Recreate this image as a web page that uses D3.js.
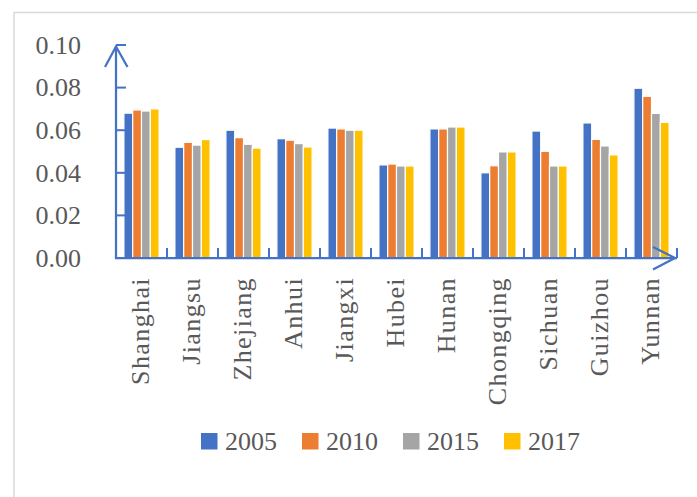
<!DOCTYPE html>
<html>
<head>
<meta charset="utf-8">
<script src="https://cdn.jsdelivr.net/npm/d3@7"></script>
<style>
body { margin: 0; background: #fff; }
text { font-family: "Liberation Serif", serif; fill: #595959; }
</style>
</head>
<body>
<svg id="chart"></svg>
<script>
var categories = ["Shanghai", "Jiangsu", "Zhejiang", "Anhui", "Jiangxi", "Hubei", "Hunan", "Chongqing", "Sichuan", "Guizhou", "Yunnan"];
var years = ["2005", "2010", "2015", "2017"];
var v2005 = [0.068, 0.052, 0.060, 0.056, 0.061, 0.0437, 0.0606, 0.040, 0.0596, 0.0634, 0.0797];
var v2010 = [0.0695, 0.0543, 0.0565, 0.0553, 0.0606, 0.0441, 0.0606, 0.0433, 0.0501, 0.0557, 0.0759];
var v2015 = [0.069, 0.053, 0.0534, 0.0537, 0.060, 0.0432, 0.0615, 0.0498, 0.0432, 0.0526, 0.0679];
var v2017 = [0.070, 0.0556, 0.0516, 0.0521, 0.060, 0.0432, 0.0615, 0.0498, 0.0432, 0.0484, 0.0637];
var yTicks = [0, 0.02, 0.04, 0.06, 0.08, 0.10];

var series = [v2005, v2010, v2015, v2017];
var colors = ["#4472C4", "#ED7D31", "#A5A5A5", "#FFC000"];
var axisColor = "#4472C4";

var width = 697, height = 497;
var plotLeft = 116, plotRight = 677, plotTop = 45, plotBottom = 258;

var svg = d3.select("#chart").attr("width", width).attr("height", height);

// chart border
svg.append("rect")
  .attr("x", 14).attr("y", 12.5)
  .attr("width", 700).attr("height", 500)
  .attr("fill", "none").attr("stroke", "#d9d9d9").attr("stroke-width", 1.5);

var y = d3.scaleLinear().domain([0, 0.10]).range([plotBottom, plotTop]);
var x0 = d3.scaleBand().domain(categories).range([plotLeft, plotRight])
  .paddingInner(0.31).paddingOuter(0.155);
var x1 = d3.scaleBand().domain(years).range([0, x0.bandwidth()]);
var step = x0.step();

// bars
var groups = svg.selectAll(".grp")
  .data(categories)
  .enter().append("g")
  .attr("class", "grp")
  .attr("transform", function(d) { return "translate(" + x0(d) + ",0)"; });

groups.selectAll("rect")
  .data(function(d, i) { return years.map(function(yr, j) { return {year: yr, value: series[j][i], k: j}; }); })
  .enter().append("rect")
  .attr("x", function(d) { return x1(d.year); })
  .attr("y", function(d) { return y(d.value); })
  .attr("width", x1.bandwidth())
  .attr("height", function(d) { return plotBottom - y(d.value); })
  .attr("fill", function(d) { return colors[d.k]; })
  .attr("stroke", "#fff").attr("stroke-width", 1.2);

// y axis line + ticks
svg.append("line")
  .attr("x1", plotLeft).attr("x2", plotLeft).attr("y1", plotBottom + 1).attr("y2", plotTop + 1)
  .attr("stroke", axisColor).attr("stroke-width", 2.25);
svg.selectAll(".ytick")
  .data(yTicks)
  .enter().append("line")
  .attr("x1", plotLeft).attr("x2", plotLeft + 10)
  .attr("y1", function(d) { return y(d); }).attr("y2", function(d) { return y(d); })
  .attr("stroke", axisColor).attr("stroke-width", 2);
svg.append("path")
  .attr("d", "M" + (plotLeft - 11) + "," + (plotTop + 22) + "L" + plotLeft + "," + (plotTop + 1.5) + "L" + (plotLeft + 11.5) + "," + (plotTop + 22))
  .attr("fill", "none").attr("stroke", axisColor).attr("stroke-width", 2.25);

svg.selectAll(".ylab")
  .data(yTicks)
  .enter().append("text")
  .attr("x", 81)
  .attr("y", function(d) { return y(d); })
  .attr("dy", "0.34em")
  .attr("text-anchor", "end")
  .style("font-size", "26px")
  .text(function(d) { return d3.format(".2f")(d); });

// x axis line + ticks
svg.append("line")
  .attr("x1", plotLeft - 1).attr("x2", plotRight).attr("y1", plotBottom).attr("y2", plotBottom)
  .attr("stroke", axisColor).attr("stroke-width", 2.25);
svg.selectAll(".xtick")
  .data(categories)
  .enter().append("line")
  .attr("x1", function(d) { return x0(d) - step * x0.paddingInner() / 2 + step; })
  .attr("x2", function(d) { return x0(d) - step * x0.paddingInner() / 2 + step; })
  .attr("y1", plotBottom).attr("y2", plotBottom - 10)
  .attr("stroke", axisColor).attr("stroke-width", 2);
svg.append("path")
  .attr("d", "M" + (plotRight - 24) + "," + (plotBottom - 11) + "L" + (plotRight - 2) + "," + plotBottom + "L" + (plotRight - 24) + "," + (plotBottom + 11.5))
  .attr("fill", "none").attr("stroke", axisColor).attr("stroke-width", 2.25);

// category labels
svg.selectAll(".xlab")
  .data(categories)
  .enter().append("text")
  .attr("transform", function(d) { return "translate(" + (x0(d) + x0.bandwidth() / 2) + ",277) rotate(-90)"; })
  .attr("dy", "0.3em")
  .attr("text-anchor", "end")
  .style("font-size", "26px")
  .style("letter-spacing", "1.4px")
  .text(function(d) { return d; });

// legend
var legend = svg.selectAll(".legend")
  .data(years)
  .enter().append("g")
  .attr("class", "legend")
  .attr("transform", function(d, i) { return "translate(" + (201 + i * 101) + ",433)"; });
legend.append("rect")
  .attr("width", 16.5).attr("height", 16.5)
  .attr("fill", function(d, i) { return colors[i]; });
legend.append("text")
  .attr("x", 24).attr("y", 16.5)
  .style("font-size", "26px")
  .text(function(d) { return d; });
</script>
</body>
</html>
